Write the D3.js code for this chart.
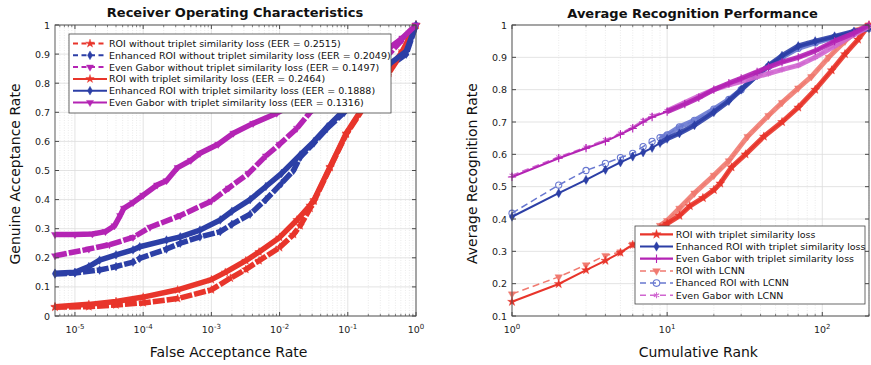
<!DOCTYPE html>
<html><head><meta charset="utf-8">
<script src="https://cdn.jsdelivr.net/npm/d3@7"></script>
<style>body{margin:0;background:#fff;} svg{display:block;font-family:"DejaVu Sans",sans-serif;}</style>
</head><body><svg id="c" width="871" height="365"></svg>
<script>
// ================= LEFT: ROC data =================
const rocXDomain = [5.1e-6, 1];
const rocXTicks = [1e-5, 1e-4, 1e-3, 1e-2, 1e-1, 1];
const rocXTickExps = ['-5', '-4', '-3', '-2', '-1', '0'];
const rocYTicks = [0, 0.1, 0.2, 0.3, 0.4, 0.5, 0.6, 0.7, 0.8, 0.9, 1];

const roiNoTripFar = [5.1e-6, 1.6e-5, 4e-5, 1e-4, 3.2e-4, 1e-3, 1.9e-3, 3.2e-3, 5e-3, 1e-2, 1.6e-2, 2e-2, 2.8e-2, 3.2e-2, 5.5e-2, 9.5e-2, 0.17, 0.25, 0.4, 0.63, 1];
const roiNoTripGar = [0.03, 0.032, 0.038, 0.045, 0.06, 0.09, 0.13, 0.16, 0.19, 0.235, 0.28, 0.31, 0.37, 0.395, 0.51, 0.625, 0.715, 0.775, 0.835, 0.905, 1];
const erNoTripFar = [5.1e-6, 1e-5, 2.3e-5, 4e-5, 7.1e-5, 8.9e-5, 2.2e-4, 3.5e-4, 6.8e-4, 1.35e-3, 2e-3, 3.7e-3, 6.3e-3, 1.07e-2, 1.6e-2, 2e-2, 3.2e-2, 5e-2, 8.9e-2, 0.16, 0.25, 0.42, 0.72, 1];
const erNoTripGar = [0.144, 0.148, 0.158, 0.17, 0.185, 0.198, 0.23, 0.25, 0.272, 0.29, 0.315, 0.35, 0.40, 0.456, 0.5, 0.545, 0.595, 0.645, 0.70, 0.765, 0.81, 0.86, 0.90, 1];
const egNoTripFar = [5.1e-6, 1.6e-5, 3.2e-5, 7.1e-5, 1.26e-4, 3.5e-4, 1e-3, 1.8e-3, 3.5e-3, 6.3e-3, 1e-2, 1.8e-2, 2.8e-2, 6.3e-2, 0.16, 0.4, 0.63, 1];
const egNoTripGar = [0.207, 0.23, 0.245, 0.27, 0.305, 0.345, 0.395, 0.44, 0.49, 0.55, 0.59, 0.645, 0.70, 0.77, 0.84, 0.90, 0.95, 1];
const roiTripFar = [5.1e-6, 1.6e-5, 4e-5, 1e-4, 3.2e-4, 1e-3, 1.6e-3, 3.2e-3, 5e-3, 1e-2, 1.8e-2, 2.8e-2, 3.2e-2, 5.5e-2, 9.5e-2, 0.17, 0.25, 0.4, 0.63, 1];
const roiTripGar = [0.032, 0.04, 0.05, 0.065, 0.09, 0.125, 0.15, 0.19, 0.22, 0.27, 0.33, 0.38, 0.399, 0.513, 0.628, 0.72, 0.78, 0.84, 0.91, 1];
const erTripFar = [5.1e-6, 1e-5, 1.6e-5, 2.3e-5, 4e-5, 7.1e-5, 8.9e-5, 2.2e-4, 3.5e-4, 6.8e-4, 1.35e-3, 2e-3, 3.7e-3, 6.3e-3, 1.07e-2, 2e-2, 3.2e-2, 5e-2, 8.9e-2, 0.16, 0.25, 0.42, 0.72, 1];
const erTripGar = [0.147, 0.15, 0.17, 0.192, 0.21, 0.227, 0.238, 0.261, 0.272, 0.295, 0.33, 0.36, 0.40, 0.445, 0.49, 0.553, 0.60, 0.65, 0.708, 0.77, 0.82, 0.868, 0.91, 1];
const egTripFar = [5.1e-6, 1e-5, 1.8e-5, 2.8e-5, 3.8e-5, 4.6e-5, 5.2e-5, 7.1e-5, 1e-4, 1.6e-4, 2.2e-4, 3.2e-4, 5e-4, 6.8e-4, 1.26e-3, 2.1e-3, 4.1e-3, 9.1e-3, 2e-2, 5e-2, 0.1, 0.2, 0.4, 0.63, 1];
const egTripGar = [0.28, 0.28, 0.282, 0.29, 0.31, 0.345, 0.37, 0.39, 0.415, 0.45, 0.465, 0.51, 0.535, 0.559, 0.59, 0.628, 0.662, 0.697, 0.74, 0.79, 0.83, 0.87, 0.92, 0.955, 1];
const rocLabels = [
  'ROI without triplet similarity loss (EER = 0.2515)',
  'Enhanced ROI without triplet similarity loss (EER = 0.2049)',
  'Even Gabor without triplet similarity loss (EER = 0.1497)',
  'ROI with triplet similarity loss (EER = 0.2464)',
  'Enhanced ROI with triplet similarity loss (EER = 0.1888)',
  'Even Gabor with triplet similarity loss (EER = 0.1316)'
];

// ================= RIGHT: CMC data =================
const cmcXDomain = [1, 200];
const cmcXTicks = [1, 10, 100];
const cmcXTickExps = ['0', '1', '2'];
const cmcYTicks = [0.1, 0.2, 0.3, 0.4, 0.5, 0.6, 0.7, 0.8, 0.9, 1];

const redTripRank = [1, 2, 3, 4, 5, 6, 7, 8, 9, 10, 12, 14, 17, 20, 22, 26, 32, 42, 55, 70, 90, 115, 140, 170, 200];
const redTripAcc = [0.144, 0.199, 0.242, 0.271, 0.296, 0.32, 0.34, 0.358, 0.372, 0.386, 0.41, 0.44, 0.465, 0.49, 0.51, 0.56, 0.60, 0.655, 0.70, 0.745, 0.80, 0.86, 0.91, 0.955, 1.0];
const redLcnnRank = [1, 2, 3, 4, 5, 6, 7, 8, 9, 10, 12, 15, 20, 25, 33, 45, 55, 70, 85, 110, 140, 170, 200];
const redLcnnAcc = [0.168, 0.221, 0.258, 0.287, 0.298, 0.322, 0.343, 0.362, 0.38, 0.395, 0.433, 0.48, 0.535, 0.58, 0.655, 0.72, 0.76, 0.805, 0.84, 0.9, 0.95, 0.985, 1.0];
const blueRank = [1, 2, 3, 4, 5, 6, 7, 8, 9, 10, 12, 15, 20, 25, 30, 38, 45, 55, 70, 90, 120, 160, 200];
const blueTripAcc = [0.407, 0.48, 0.521, 0.552, 0.575, 0.593, 0.606, 0.62, 0.635, 0.648, 0.665, 0.69, 0.73, 0.765, 0.8, 0.845, 0.875, 0.905, 0.935, 0.95, 0.965, 0.98, 0.99];
const blueLcnnAcc = [0.418, 0.505, 0.55, 0.572, 0.59, 0.603, 0.624, 0.64, 0.652, 0.66, 0.685, 0.705, 0.74, 0.77, 0.8, 0.845, 0.872, 0.9, 0.928, 0.945, 0.962, 0.978, 0.99];
const magRank = [1, 2, 3, 4, 5, 6, 7, 8, 10, 13, 16, 20, 25, 30, 38, 45, 55, 70, 90, 120, 160, 200];
const magTripAcc = [0.53, 0.588, 0.619, 0.64, 0.662, 0.68, 0.7, 0.715, 0.732, 0.755, 0.775, 0.8, 0.82, 0.835, 0.855, 0.87, 0.885, 0.9, 0.92, 0.95, 0.975, 1.0];
const magLcnnAcc = [0.535, 0.592, 0.622, 0.645, 0.665, 0.685, 0.705, 0.72, 0.735, 0.76, 0.78, 0.8, 0.815, 0.825, 0.84, 0.85, 0.862, 0.875, 0.9, 0.935, 0.97, 0.995];
const cmcLabels = [
  'ROI with triplet similarity loss',
  'Enhanced ROI with triplet similarity loss',
  'Even Gabor with triplet similarity loss',
  'ROI with LCNN',
  'Ehanced ROI with LCNN',
  'Even Gabor with LCNN'
];

// ================= drawing =================
const C = {red: '#e8352b', blue: '#2c3fa6', mag: '#b424b4', lred: '#f07a70', lblue: '#6878d0', lmag: '#d066d0'};
const svg = d3.select('#c');
const zip = (a, b) => a.map((v, i) => [v, b[i]]);

function symPath(type, size) {
  const t = {star: d3.symbolStar, diamond: d3.symbolDiamond, tri: d3.symbolTriangle, circle: d3.symbolCircle,
    plus: d3.symbolPlus || d3.symbolCross, asterisk: d3.symbolAsterisk || d3.symbolCross}[type];
  return d3.symbol().type(t).size(size)();
}
function marker(g, type, x, y, color, size, hollow) {
  const p = g.append('path').attr('d', symPath(type, size))
    .attr('transform', `translate(${x},${y})` + (type === 'tri' ? ' rotate(180)' : ''));
  if (hollow || type === 'plus' || type === 'asterisk')
    p.attr('fill', 'none').attr('stroke', color).attr('stroke-width', 1.1);
  else p.attr('fill', color).attr('stroke', color).attr('stroke-width', 0.4);
}
function minorLog(dom) {
  const out = [];
  for (let e = Math.floor(Math.log10(dom[0])); e < Math.ceil(Math.log10(dom[1])); e++)
    for (let k = 2; k <= 9; k++) { const v = k * Math.pow(10, e); if (v >= dom[0] && v <= dom[1]) out.push(v); }
  return out;
}

function panel(box, xs, ys, xTicks, xExps, yTicks, xDom) {
  const g = svg.append('g');
  const grid = g.append('g');
  minorLog(xDom).forEach(v => grid.append('line').attr('x1', xs(v)).attr('x2', xs(v)).attr('y1', box.y0).attr('y2', box.y1)
    .attr('stroke', '#e2e2e2').attr('stroke-width', 0.7).attr('stroke-dasharray', '1,1.5'));
  xTicks.forEach(v => grid.append('line').attr('x1', xs(v)).attr('x2', xs(v)).attr('y1', box.y0).attr('y2', box.y1)
    .attr('stroke', '#dcdcdc').attr('stroke-width', 0.8));
  yTicks.forEach(v => grid.append('line').attr('y1', ys(v)).attr('y2', ys(v)).attr('x1', box.x0).attr('x2', box.x1)
    .attr('stroke', '#dcdcdc').attr('stroke-width', 0.8));
  return g;
}
function frame(box, xs, ys, xTicks, xExps, yTicks, xDom) {
  const g = svg.append('g');
  g.append('rect').attr('x', box.x0).attr('y', box.y0).attr('width', box.x1 - box.x0).attr('height', box.y1 - box.y0)
    .attr('fill', 'none').attr('stroke', '#4a4a4a').attr('stroke-width', 0.9);
  const tk = '#4a4a4a';
  xTicks.forEach(v => {
    g.append('line').attr('x1', xs(v)).attr('x2', xs(v)).attr('y1', box.y1).attr('y2', box.y1 - 4).attr('stroke', tk);
    g.append('line').attr('x1', xs(v)).attr('x2', xs(v)).attr('y1', box.y0).attr('y2', box.y0 + 4).attr('stroke', tk);
  });
  minorLog(xDom).forEach(v => {
    g.append('line').attr('x1', xs(v)).attr('x2', xs(v)).attr('y1', box.y1).attr('y2', box.y1 - 2.2).attr('stroke', tk).attr('stroke-width', 0.7);
    g.append('line').attr('x1', xs(v)).attr('x2', xs(v)).attr('y1', box.y0).attr('y2', box.y0 + 2.2).attr('stroke', tk).attr('stroke-width', 0.7);
  });
  yTicks.forEach(v => {
    g.append('line').attr('y1', ys(v)).attr('y2', ys(v)).attr('x1', box.x0).attr('x2', box.x0 + 4).attr('stroke', tk);
    g.append('line').attr('y1', ys(v)).attr('y2', ys(v)).attr('x1', box.x1).attr('x2', box.x1 - 4).attr('stroke', tk);
    g.append('text').attr('x', box.x0 - 5).attr('y', ys(v) + 3.5).attr('text-anchor', 'end')
      .attr('font-size', 9.5).attr('fill', '#222').text(String(+v.toFixed(1)));
  });
  xTicks.forEach((v, i) => {
    const t = g.append('text').attr('x', xs(v)).attr('y', box.y1 + 17).attr('text-anchor', 'middle')
      .attr('font-size', 9.5).attr('fill', '#222');
    t.append('tspan').text('10');
    t.append('tspan').attr('dy', -4).attr('font-size', 7).text(xExps[i]);
  });
}

// ---------- LEFT ----------
const LB = {x0: 55, x1: 416, y0: 25, y1: 316};
const xL = d3.scaleLog().domain(rocXDomain).range([LB.x0, LB.x1]);
const yL = d3.scaleLinear().domain([0, 1]).range([LB.y1, LB.y0]);
const gl = panel(LB, xL, yL, rocXTicks, rocXTickExps, rocYTicks, rocXDomain);
const lineL = d3.line().x(d => xL(d[0])).y(d => yL(d[1]));
const rocSeries = [
  {far: roiNoTripFar, gar: roiNoTripGar, c: C.red, m: 'star', dash: true},
  {far: erNoTripFar, gar: erNoTripGar, c: C.blue, m: 'diamond', dash: true},
  {far: egNoTripFar, gar: egNoTripGar, c: C.mag, m: 'tri', dash: true},
  {far: roiTripFar, gar: roiTripGar, c: C.red, m: 'star', dash: false},
  {far: erTripFar, gar: erTripGar, c: C.blue, m: 'diamond', dash: false},
  {far: egTripFar, gar: egTripGar, c: C.mag, m: 'tri', dash: false}
];
rocSeries.forEach(s => {
  const pts = zip(s.far, s.gar);
  gl.append('path').attr('d', lineL(pts)).attr('fill', 'none').attr('stroke', s.c)
    .attr('stroke-width', 5.5).attr('stroke-linejoin', 'round')
    .attr('stroke-dasharray', s.dash ? '12,2' : null);
  pts.forEach(p => marker(gl, s.m, xL(p[0]), yL(p[1]), s.c, 22, false));
});
// legend
const lg = svg.append('g');
lg.append('rect').attr('x', 69).attr('y', 34).attr('width', 322).attr('height', 79)
  .attr('fill', '#fff').attr('stroke', '#444').attr('stroke-width', 0.8);
rocSeries.forEach((s, i) => {
  const y = 43.5 + i * 11.8;
  lg.append('line').attr('x1', 73).attr('x2', 107).attr('y1', y).attr('y2', y).attr('stroke', s.c)
    .attr('stroke-width', 2).attr('stroke-dasharray', s.dash ? '5,3.5' : null);
  marker(lg, s.m, 90, y, s.c, 22, false);
  lg.append('text').attr('x', 109).attr('y', y + 3.4).attr('font-size', 9.5).attr('fill', '#111').text(rocLabels[i]);
});
frame(LB, xL, yL, rocXTicks, rocXTickExps, rocYTicks, rocXDomain);
svg.append('text').attr('x', 235).attr('y', 16.5).attr('text-anchor', 'middle').attr('font-weight', 'bold')
  .attr('font-size', 13).attr('fill', '#111').text('Receiver Operating Characteristics');
svg.append('text').attr('x', 228.5).attr('y', 357).attr('text-anchor', 'middle').attr('font-size', 14)
  .attr('fill', '#111').text('False Acceptance Rate');
svg.append('text').attr('transform', 'translate(20,174) rotate(-90)').attr('text-anchor', 'middle').attr('font-size', 14)
  .attr('fill', '#111').text('Genuine Acceptance Rate');

// ---------- RIGHT ----------
const RB = {x0: 512, x1: 869, y0: 25, y1: 316};
const xR = d3.scaleLog().domain(cmcXDomain).range([RB.x0, RB.x1]);
const yR = d3.scaleLinear().domain([0.1, 1]).range([RB.y1, RB.y0]);
const gr = panel(RB, xR, yR, cmcXTicks, cmcXTickExps, cmcYTicks, cmcXDomain);
const lineR = d3.line().x(d => xR(d[0])).y(d => yR(d[1]));
const cmcSeries = [
  {r: redTripRank, a: redTripAcc, c: C.red, m: 'star', dash: false, hollow: false},
  {r: blueRank, a: blueTripAcc, c: C.blue, m: 'diamond', dash: false, hollow: false},
  {r: magRank, a: magTripAcc, c: C.mag, m: 'plus', dash: false, hollow: false},
  {r: redLcnnRank, a: redLcnnAcc, c: C.lred, m: 'tri', dash: true, hollow: false},
  {r: blueRank, a: blueLcnnAcc, c: C.lblue, m: 'circle', dash: true, hollow: true},
  {r: magRank, a: magLcnnAcc, c: C.lmag, m: 'asterisk', dash: true, hollow: false}
];
const drawOrder = [3, 0, 4, 1, 5, 2];
drawOrder.forEach(k => {
  const s = cmcSeries[k];
  const pts = zip(s.r, s.a);
  gr.append('path').attr('d', lineR(pts.filter(p => p[0] >= 9))).attr('fill', 'none').attr('stroke', s.c)
    .attr('stroke-width', 5).attr('stroke-linejoin', 'round').attr('opacity', 0.9);
  gr.append('path').attr('d', lineR(pts)).attr('fill', 'none').attr('stroke', s.c)
    .attr('stroke-width', s.dash ? 1.5 : 2).attr('stroke-dasharray', s.dash ? '7,4' : null);
  pts.forEach(p => marker(gr, s.m, xR(p[0]), yR(p[1]), s.c, s.m === 'circle' ? 30 : 24, s.hollow));
});
const rg = svg.append('g');
rg.append('rect').attr('x', 635).attr('y', 226).attr('width', 230).attr('height', 78)
  .attr('fill', '#fff').attr('stroke', '#444').attr('stroke-width', 0.8);
cmcSeries.forEach((s, i) => {
  const y = 234.3 + i * 12.2;
  rg.append('line').attr('x1', 640).attr('x2', 673).attr('y1', y).attr('y2', y).attr('stroke', s.c)
    .attr('stroke-width', s.dash ? 1.5 : 2.2).attr('stroke-dasharray', s.dash ? '6,4' : null);
  marker(rg, s.m, 656.5, y, s.c, s.m === 'circle' ? 34 : 26, s.hollow);
  rg.append('text').attr('x', 675.7).attr('y', y + 3.3).attr('font-size', 9.5).attr('fill', '#111').text(cmcLabels[i]);
});
frame(RB, xR, yR, cmcXTicks, cmcXTickExps, cmcYTicks, cmcXDomain);
svg.append('text').attr('x', 692.5).attr('y', 17.5).attr('text-anchor', 'middle').attr('font-weight', 'bold')
  .attr('font-size', 13).attr('fill', '#111').text('Average Recognition Performance');
svg.append('text').attr('x', 698.3).attr('y', 357).attr('text-anchor', 'middle').attr('font-size', 14)
  .attr('fill', '#111').text('Cumulative Rank');
svg.append('text').attr('transform', 'translate(476.7,173.5) rotate(-90)').attr('text-anchor', 'middle').attr('font-size', 14)
  .attr('fill', '#111').text('Average Recognition Rate');
</script></body></html>
